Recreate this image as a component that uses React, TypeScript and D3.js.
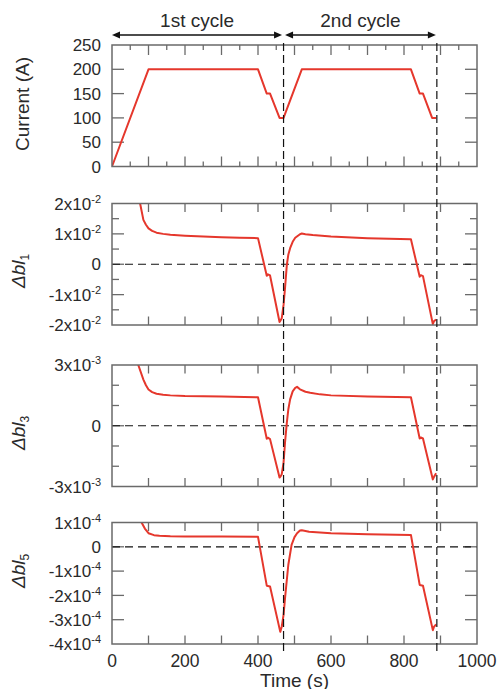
import React from 'react';
import * as d3 from 'd3';

const W = 499;
const H = 689;

// ---------- data ----------
const currentTime = [0, 100, 400, 424, 433, 459, 470, 520, 819, 843, 852, 877, 888];
const currentValues = [0, 200, 200, 150, 150, 100, 100, 200, 200, 150, 150, 100, 100];

const b1Time = [70, 77, 86, 93, 100, 110, 122, 140, 160, 200, 250, 300, 350, 400, 424, 427, 433, 459, 462, 465, 470, 474, 479, 483, 488, 495, 502, 515, 520, 530, 550, 600, 700, 819, 843, 846, 852, 879, 882, 888];
const b1Values = [2.6, 2.0, 1.46, 1.3, 1.18, 1.1, 1.04, 1.0, 0.97, 0.94, 0.91, 0.89, 0.87, 0.86, -0.38, -0.33, -0.37, -1.9, -1.84, -1.78, -1.34, -0.79, -0.02, 0.31, 0.53, 0.74, 0.87, 0.99, 1.01, 0.99, 0.96, 0.91, 0.86, 0.82, -0.41, -0.36, -0.39, -1.97, -1.88, -1.82]; // x1e-2

const b3Time = [66, 72, 86, 93, 100, 110, 122, 140, 160, 200, 300, 400, 424, 427, 433, 459, 462, 465, 470, 474, 479, 483, 488, 495, 502, 507, 515, 530, 543, 570, 600, 700, 819, 843, 846, 852, 879, 883, 888];
const b3Values = [3.3, 3.0, 2.28, 2.0, 1.79, 1.66, 1.58, 1.53, 1.5, 1.47, 1.44, 1.41, -0.64, -0.59, -0.66, -2.56, -2.5, -2.4, -1.82, -0.84, 0.15, 0.8, 1.3, 1.7, 1.87, 1.92, 1.8, 1.68, 1.63, 1.55, 1.5, 1.45, 1.41, -0.63, -0.58, -0.63, -2.65, -2.5, -2.35]; // x1e-3

const b5Time = [78, 81, 90, 100, 115, 130, 160, 200, 300, 400, 424, 433, 461, 465, 470, 474, 483, 492, 500, 507, 515, 520, 540, 600, 700, 819, 843, 852, 879, 882, 888];
const b5Values = [1.15, 1.0, 0.75, 0.56, 0.48, 0.45, 0.43, 0.42, 0.42, 0.41, -1.6, -1.63, -3.5, -3.29, -2.8, -2.12, -0.75, 0.08, 0.4, 0.56, 0.67, 0.68, 0.62, 0.56, 0.52, 0.49, -1.57, -1.6, -3.43, -3.3, -3.19]; // x1e-4

const xTickValues = [0, 200, 400, 600, 800, 1000];
const currentTicks = [0, 50, 100, 150, 200, 250];
const b1Ticks = [-2, -1.5, -1, -0.5, 0, 0.5, 1, 1.5, 2];
const b1Labels = [-2, -1, 0, 1, 2];
const b3Ticks = [-3, -2, -1, 0, 1, 2, 3];
const b3Labels = [-3, 0, 3];
const b5Ticks = [-4, -3, -2, -1, 0, 1];
const b5Labels = [-4, -3, -2, -1, 0, 1];
const cycleMarks = [470, 890];
const cycleNames = ['1st cycle', '2nd cycle'];

// ---------- layout ----------
const X0 = 112;
const X1 = 477;
const PH = 121.5;
const FONT = "'Liberation Sans', Arial, Helvetica, sans-serif";
const RED = '#e5372c';
const FRAME = '#6a6a6a';
const TXT = '#2a2a2a';

const x = d3.scaleLinear().domain([0, 1000]).range([X0, X1]);

type Panel = {
  id: string;
  top: number;
  domain: [number, number];
  time: number[];
  values: number[];
  ticks: number[];
  labels: number[];
  exp: string | null;
  zeroLine: boolean;
  minorX: boolean;
  title: 'current' | '1' | '3' | '5';
  titleY: number;
};

const panels: Panel[] = [
  { id: 'p1', top: 45, domain: [0, 250], time: currentTime, values: currentValues, ticks: currentTicks, labels: currentTicks, exp: null, zeroLine: false, minorX: true, title: 'current', titleY: 104 },
  { id: 'p2', top: 203.5, domain: [-2, 2], time: b1Time, values: b1Values, ticks: b1Ticks, labels: b1Labels, exp: '-2', zeroLine: true, minorX: false, title: '1', titleY: 271 },
  { id: 'p3', top: 365, domain: [-3, 3], time: b3Time, values: b3Values, ticks: b3Ticks, labels: b3Labels, exp: '-3', zeroLine: true, minorX: false, title: '3', titleY: 433 },
  { id: 'p4', top: 522.5, domain: [-4, 1], time: b5Time, values: b5Values, ticks: b5Ticks, labels: b5Labels, exp: '-4', zeroLine: true, minorX: false, title: '5', titleY: 571 },
];

function TickLabel({ v, exp, y }: { v: number; exp: string | null; y: number }) {
  if (exp === null || v === 0) {
    return (
      <text x={101} y={y} dy="0.36em" textAnchor="end" fontSize={17} fill={TXT}>
        {String(v)}
      </text>
    );
  }
  return (
    <text x={101} y={y} dy="0.36em" textAnchor="end" fontSize={17} fill={TXT}>
      <tspan>{`${v}x10`}</tspan>
      <tspan fontSize={11} dy={-7}>{exp}</tspan>
    </text>
  );
}

function PanelView({ p, last }: { p: Panel; last: boolean }) {
  const y = d3.scaleLinear().domain(p.domain).range([p.top + PH, p.top]);
  const line = d3
    .line<number>()
    .x((_, i) => x(p.time[i]))
    .y((d) => y(d));
  const path = line(p.values) || '';
  const bottom = p.top + PH;
  const xMinor = d3.range(50, 1000, 100);
  const xMajor = d3.range(100, 1000, 100);
  const majorLen = p.minorX ? 10 : 8.5;
  const yTickLen = (v: number) => (p.labels.includes(v) ? 12 : 7);

  return (
    <g>
      <defs>
        <clipPath id={`clip-${p.id}`}>
          <rect x={X0} y={p.top} width={X1 - X0} height={PH} />
        </clipPath>
      </defs>
      {/* x ticks top and bottom */}
      {xMajor.map((t) => (
        <g key={`xm${t}`} stroke={FRAME} strokeWidth={1.3}>
          <line x1={x(t)} x2={x(t)} y1={p.top} y2={p.top + majorLen} />
          <line x1={x(t)} x2={x(t)} y1={bottom} y2={bottom - majorLen} />
        </g>
      ))}
      {p.minorX &&
        xMinor.map((t) => (
          <g key={`xn${t}`} stroke={FRAME} strokeWidth={1.3}>
            <line x1={x(t)} x2={x(t)} y1={p.top} y2={p.top + 5} />
            <line x1={x(t)} x2={x(t)} y1={bottom} y2={bottom - 5} />
          </g>
        ))}
      {/* y ticks left and right */}
      {p.ticks
        .filter((v) => v !== p.domain[0] && v !== p.domain[1])
        .map((v) => (
          <g key={`yt${v}`} stroke={FRAME} strokeWidth={1.3}>
            <line x1={X0} x2={X0 + yTickLen(v)} y1={y(v)} y2={y(v)} />
            <line x1={X1} x2={X1 - yTickLen(v)} y1={y(v)} y2={y(v)} />
          </g>
        ))}
      {/* zero line */}
      {p.zeroLine && (
        <line x1={X0} x2={X1} y1={y(0)} y2={y(0)} stroke="#111" strokeWidth={1.2} strokeDasharray="8,5" />
      )}
      {/* data */}
      <path d={path} fill="none" stroke={RED} strokeWidth={2} strokeLinejoin="round" clipPath={`url(#clip-${p.id})`} />
      {/* frame */}
      <rect x={X0} y={p.top} width={X1 - X0} height={PH} fill="none" stroke={FRAME} strokeWidth={1.5} />
      {/* y labels */}
      {p.labels.map((v) => (
        <TickLabel key={`yl${v}`} v={v} exp={p.exp} y={y(v)} />
      ))}
      {/* y title */}
      {p.title === 'current' ? (
        <text transform={`translate(29, ${p.titleY}) rotate(-90)`} textAnchor="middle" fontSize={19} fill={TXT}>
          Current (A)
        </text>
      ) : (
        <text transform={`translate(25, ${p.titleY}) rotate(-90)`} textAnchor="middle" fontSize={19} fill={TXT}>
          <tspan fontStyle="italic">Δbl</tspan>
          <tspan fontSize={12} dy={4}>{p.title}</tspan>
        </text>
      )}
      {/* x labels */}
      {last &&
        xTickValues.map((t) => (
          <text key={`xl${t}`} x={x(t)} y={666.5} textAnchor="middle" fontSize={17.5} fill={TXT}>
            {t}
          </text>
        ))}
    </g>
  );
}

export default function App() {
  const arrowY = 35;
  const segs = [
    [x(0), x(cycleMarks[0]) - 1.5],
    [x(cycleMarks[0]) + 1.5, x(cycleMarks[1]) - 1],
  ];
  const head = 8;
  const hw = 3.5;
  return (
    <svg width={W} height={H} style={{ display: 'block', position: 'absolute', left: 0, top: 0 }} fontFamily={FONT}>
      <rect width={W} height={H} fill="#fff" />
      {panels.map((p, i) => (
        <PanelView key={p.id} p={p} last={i === panels.length - 1} />
      ))}
      {/* vertical dashed cycle lines */}
      {cycleMarks.map((t) => (
        <line key={`cm${t}`} x1={x(t)} x2={x(t)} y1={43} y2={651} stroke="#111" strokeWidth={1.2} strokeDasharray="8,4" />
      ))}
      {/* arrows */}
      {segs.map(([a, b], i) => (
        <g key={`ar${i}`}>
          <line x1={a + head - 1} x2={b - head + 1} y1={arrowY} y2={arrowY} stroke="#111" strokeWidth={1.3} />
          <polygon points={`${a},${arrowY} ${a + head},${arrowY - hw} ${a + head},${arrowY + hw}`} fill="#111" />
          <polygon points={`${b},${arrowY} ${b - head},${arrowY - hw} ${b - head},${arrowY + hw}`} fill="#111" />
          <text x={(a + b) / 2} y={27} textAnchor="middle" fontSize={19} fill={TXT}>
            {cycleNames[i]}
          </text>
        </g>
      ))}
      <text x={x(500)} y={686.5} textAnchor="middle" fontSize={19} fill={TXT}>
        Time (s)
      </text>
    </svg>
  );
}
